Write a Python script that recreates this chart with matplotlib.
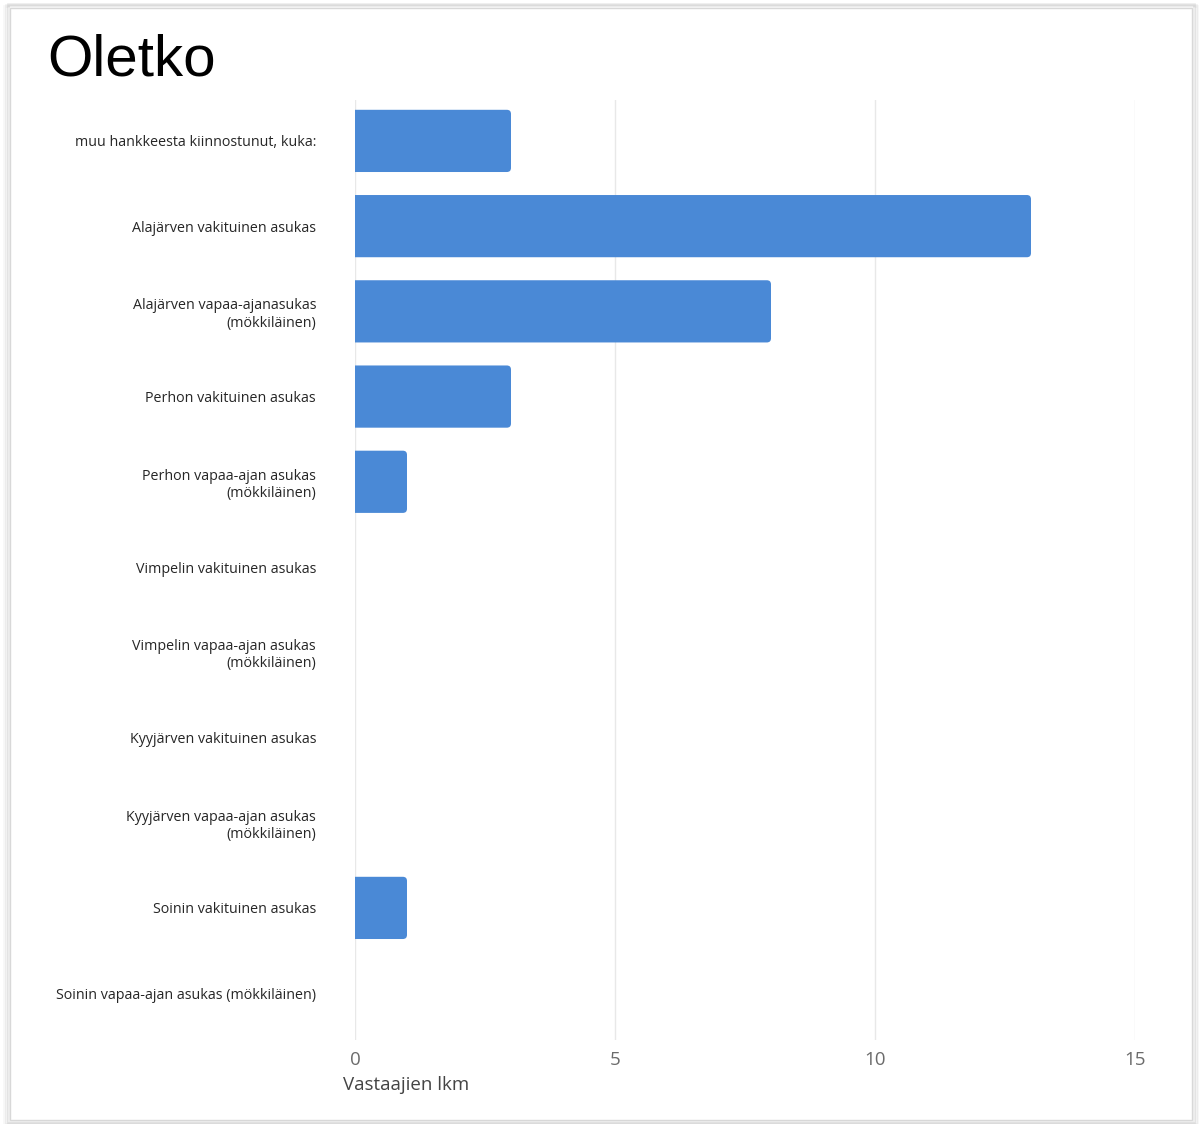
import numpy as np
import matplotlib
matplotlib.use('Agg')
import matplotlib.pyplot as plt
from matplotlib.patches import FancyBboxPatch, Rectangle

categories = [
    'muu hankkeesta kiinnostunut, kuka:',
    'Alajärven vakituinen asukas',
    'Alajärven vapaa-ajanasukas\n(mökkiläinen)',
    'Perhon vakituinen asukas',
    'Perhon vapaa-ajan asukas\n(mökkiläinen)',
    'Vimpelin vakituinen asukas',
    'Vimpelin vapaa-ajan asukas\n(mökkiläinen)',
    'Kyyjärven vakituinen asukas',
    'Kyyjärven vapaa-ajan asukas\n(mökkiläinen)',
    'Soinin vakituinen asukas',
    'Soinin vapaa-ajan asukas (mökkiläinen)',
]
counts = [3, 13, 8, 3, 1, 0, 0, 0, 0, 1, 0]
xticks = [0, 5, 10, 15]

W, H = 1199, 1124
fig = plt.figure(figsize=(W / 100, H / 100), dpi=100)
fig.patch.set_facecolor('white')

# card frame with a soft shadow
for i, a in enumerate([0.07, 0.05, 0.03]):
    fig.patches.append(Rectangle(((10 - 2 - 2 * i) / W, (4 - 2 - i) / H),
                                 (1182 + 4 + 4 * i) / W, (1116 + 2) / H,
                                 transform=fig.transFigure, fill=False,
                                 edgecolor='black', alpha=a, lw=2, zorder=-10))
fig.patches.append(Rectangle((10 / W, 4 / H), 1182 / W, 1112 / H,
                             transform=fig.transFigure, facecolor='white',
                             edgecolor='#d8d8d8', lw=1, zorder=-9))

ax = fig.add_axes([355 / W, 1 - 1040 / H, 780 / W, 940 / H])
ax.set_facecolor('none')
ax.set_zorder(5)

y = np.arange(len(categories))
bar_h = 0.73
# x: 52 px per unit, y: ~85 px per unit
aspect = 52 / 85.2
for yi, c in zip(y, counts):
    if c <= 0:
        continue
    p = FancyBboxPatch((-0.3, yi - bar_h / 2), c + 0.3, bar_h,
                       boxstyle='round,pad=0,rounding_size=0.08',
                       mutation_aspect=aspect,
                       facecolor='#4a89d6', edgecolor='none', zorder=3)
    ax.add_patch(p)

ax.set_xlim(0, 15)
ax.set_ylim(len(categories) - 1 + 0.55, -0.48)
ax.set_xticks(xticks)
ax.set_xticklabels([str(t) for t in xticks], fontsize=13.5, color='#6b6b6b',
                   family=['Open Sans', 'DejaVu Sans'])
ax.set_yticks(y)
ax.set_yticklabels(categories, fontsize=10.3, color='#262626',
                   family=['Open Sans', 'DejaVu Sans'],
                   linespacing=1.2)
ax.tick_params(axis='y', length=0, pad=28)
ax.tick_params(axis='x', length=0, pad=8)
ax.grid(axis='x', color='#e8e8e8', lw=1, zorder=0)
for s in ax.spines.values():
    s.set_visible(False)

fig.text(343 / W, 1 - 1085 / H, 'Vastaajien lkm', fontsize=13.5,
         color='#444444', family=['Open Sans', 'DejaVu Sans'],
         ha='left', va='center')
fig.text(47 / W, 1 - 75 / H, 'Oletko', fontsize=42,
         family=['Liberation Sans', 'DejaVu Sans'], color='black',
         ha='left', va='baseline')

fig.savefig('out.png', dpi=100)
